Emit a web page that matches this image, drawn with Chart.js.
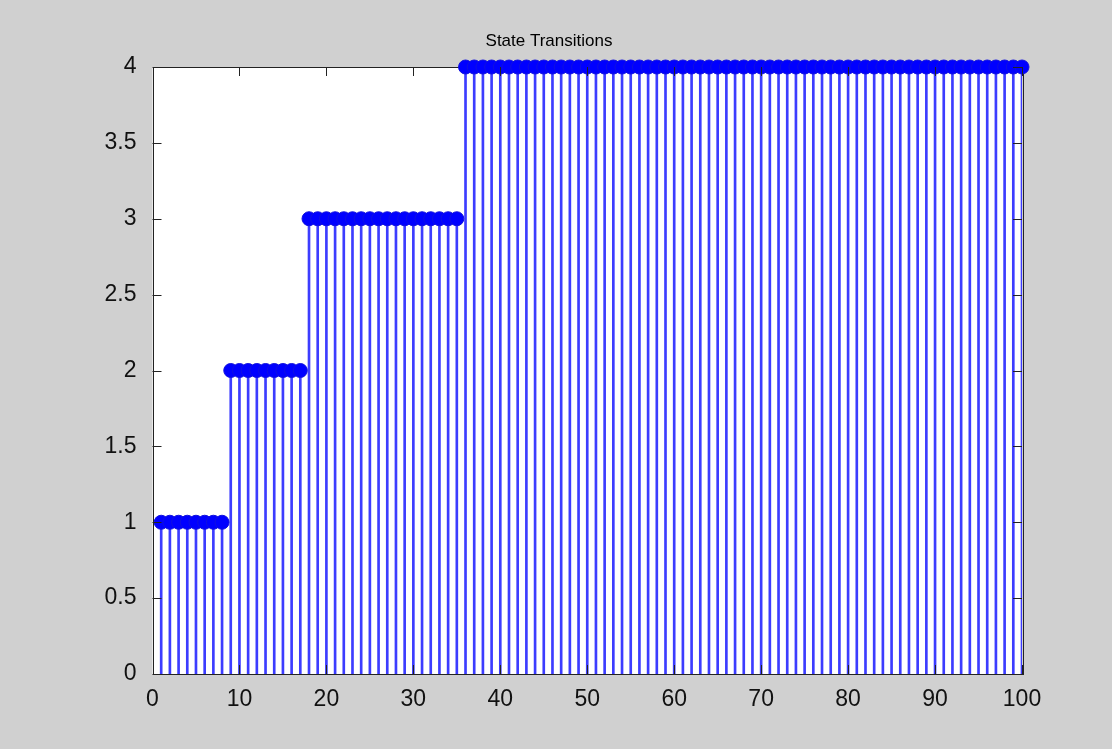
<!DOCTYPE html>
<html>
<head>
<meta charset="utf-8">
<script src="https://cdn.jsdelivr.net/npm/chart.js@4/dist/chart.umd.min.js"></script>
<style>
  html, body { margin: 0; padding: 0; background: #d0d0d0; }
  canvas { display: block; }
</style>
</head>
<body>
<canvas id="graficoCanvas" width="1112" height="749"></canvas>
<script>
// ---------- dados ----------
const steps = [
  1, 2, 3, 4, 5, 6, 7, 8, 9, 10,
  11, 12, 13, 14, 15, 16, 17, 18, 19, 20,
  21, 22, 23, 24, 25, 26, 27, 28, 29, 30,
  31, 32, 33, 34, 35, 36, 37, 38, 39, 40,
  41, 42, 43, 44, 45, 46, 47, 48, 49, 50,
  51, 52, 53, 54, 55, 56, 57, 58, 59, 60,
  61, 62, 63, 64, 65, 66, 67, 68, 69, 70,
  71, 72, 73, 74, 75, 76, 77, 78, 79, 80,
  81, 82, 83, 84, 85, 86, 87, 88, 89, 90,
  91, 92, 93, 94, 95, 96, 97, 98, 99, 100
];
const states = [
  1, 1, 1, 1, 1, 1, 1, 1, 2, 2,
  2, 2, 2, 2, 2, 2, 2, 3, 3, 3,
  3, 3, 3, 3, 3, 3, 3, 3, 3, 3,
  3, 3, 3, 3, 3, 4, 4, 4, 4, 4,
  4, 4, 4, 4, 4, 4, 4, 4, 4, 4,
  4, 4, 4, 4, 4, 4, 4, 4, 4, 4,
  4, 4, 4, 4, 4, 4, 4, 4, 4, 4,
  4, 4, 4, 4, 4, 4, 4, 4, 4, 4,
  4, 4, 4, 4, 4, 4, 4, 4, 4, 4,
  4, 4, 4, 4, 4, 4, 4, 4, 4, 4
];
const xTicks = [0, 10, 20, 30, 40, 50, 60, 70, 80, 90, 100];
const yTicks = [0, 0.5, 1, 1.5, 2, 2.5, 3, 3.5, 4];
const yTickLabels = ["0", "0.5", "1", "1.5", "2", "2.5", "3", "3.5", "4"];

const points = steps.map((s, i) => ({ x: s, y: states[i] }));
const STEM = "rgb(60,60,255)";
const TICK_LEN = 9;
const FONT = "'Liberation Sans', Arial, sans-serif";

// ---------- moldura e ticks internos (estilo matlab) ----------
const boxPlugin = {
  id: "matlabBox",
  beforeDatasetsDraw(chart) {
    const { ctx, chartArea: a } = chart;
    ctx.save();
    ctx.fillStyle = "#ffffff";
    ctx.fillRect(a.left, a.top, a.right - a.left, a.bottom - a.top);
    ctx.strokeStyle = "#222";
    ctx.lineWidth = 1;
    ctx.strokeRect(Math.round(a.left) + 0.5, Math.round(a.top) + 0.5,
      Math.round(a.right - a.left), Math.round(a.bottom - a.top));
    ctx.restore();
  },
  afterDatasetsDraw(chart) {
    const { ctx, chartArea: a, scales } = chart;
    ctx.save();
    ctx.strokeStyle = "#222";
    ctx.lineWidth = 1;
    ctx.beginPath();
    xTicks.forEach(v => {
      const px = Math.round(scales.x.getPixelForValue(v)) + 0.5;
      ctx.moveTo(px, a.bottom); ctx.lineTo(px, a.bottom - TICK_LEN);
      ctx.moveTo(px, a.top); ctx.lineTo(px, a.top + TICK_LEN);
    });
    yTicks.forEach(v => {
      const py = Math.round(scales.y.getPixelForValue(v)) + 0.5;
      ctx.moveTo(a.left, py); ctx.lineTo(a.left + TICK_LEN, py);
      ctx.moveTo(a.right, py); ctx.lineTo(a.right - TICK_LEN, py);
    });
    ctx.stroke();
    ctx.restore();
  }
};

const ctx = document.getElementById("graficoCanvas").getContext("2d");
const chartInstance = new Chart(ctx, {
  type: "bar",
  data: {
    datasets: [
      {
        type: "line",
        label: "markers",
        data: points,
        showLine: false,
        pointRadius: 7,
        pointBorderWidth: 1,
        pointBackgroundColor: "#0000ff",
        pointBorderColor: "#1010e0",
        clip: false,
        order: 0
      },
      {
        type: "bar",
        label: "stems",
        data: points,
        barThickness: 2,
        backgroundColor: STEM,
        borderWidth: 0,
        order: 1
      }
    ]
  },
  plugins: [boxPlugin],
  options: {
    responsive: false,
    animation: false,
    layout: { padding: { left: 76, right: 90, top: 0, bottom: 0 } },
    plugins: {
      legend: { display: false },
      tooltip: { enabled: false },
      title: {
        display: true,
        text: "State Transitions",
        color: "#000",
        font: { family: FONT, size: 17, weight: "normal" },
        padding: { top: 31, bottom: 15.6 }
      }
    },
    scales: {
      x: {
        type: "linear",
        min: 0,
        max: 100,
        offset: false,
        grid: { display: false },
        border: { display: false },
        afterFit: s => { s.height = 75; },
        afterBuildTicks: s => { s.ticks = xTicks.map(v => ({ value: v })); },
        ticks: {
          color: "#111",
          padding: 4,
          maxRotation: 0,
          autoSkip: false,
          font: { family: FONT, size: 23 }
        }
      },
      y: {
        type: "linear",
        min: 0,
        max: 4,
        grid: { display: false },
        border: { display: false },
        afterFit: s => { s.width = 76.5; },
        afterBuildTicks: s => { s.ticks = yTicks.map(v => ({ value: v })); },
        ticks: {
          color: "#111",
          padding: 8,
          autoSkip: false,
          font: { family: FONT, size: 23 },
          callback: (v, i) => yTickLabels[i]
        }
      }
    }
  }
});
</script>
</body>
</html>
